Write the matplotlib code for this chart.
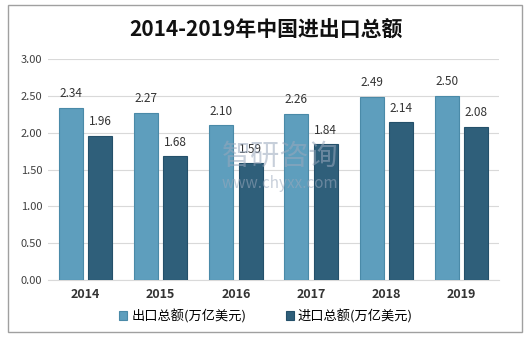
"""2014-2019 China import/export totals, grouped bar chart."""

import matplotlib

matplotlib.use("Agg")
import matplotlib.pyplot as plt
from matplotlib.patches import Rectangle
import numpy as np

plt.rcParams["font.family"] = ["Noto Sans CJK SC", "DejaVu Sans"]

YEARS = ["2014", "2015", "2016", "2017", "2018", "2019"]
EXPORTS = [2.34, 2.27, 2.10, 2.26, 2.49, 2.50]
IMPORTS = [1.96, 1.68, 1.59, 1.84, 2.14, 2.08]
SERIES_NAMES = ["出口总额(万亿美元)", "进口总额(万亿美元)"]
TITLE = "2014-2019年中国进出口总额"
Y_TICKS = [0.0, 0.5, 1.0, 1.5, 2.0, 2.5, 3.0]

EXPORT_COLOR = "#5e9ebd"
IMPORT_COLOR = "#2f5f7a"

fig = plt.figure(figsize=(5.32, 3.46), dpi=100)
fig.patches.append(Rectangle((8 / 532, 1 - 332 / 346), 514 / 532, 327 / 346,
                             transform=fig.transFigure, fill=False,
                             edgecolor="#a0a0a0", linewidth=1.0))

ax = fig.add_axes([48 / 532, 1 - 280 / 346, 451 / 532, 221 / 346])

x = np.arange(len(YEARS))
w = 0.32
gap = 0.035
b1 = ax.bar(x - w / 2 - gap, EXPORTS, width=w, color=EXPORT_COLOR,
            edgecolor="#4a8aa8", linewidth=0.8, label=SERIES_NAMES[0], zorder=3)
b2 = ax.bar(x + w / 2 + gap, IMPORTS, width=w, color=IMPORT_COLOR,
            edgecolor="#24506a", linewidth=0.8, label=SERIES_NAMES[1], zorder=3)

# watermark (sits behind the value labels)
fig.text(280 / 532, 1 - 157 / 346, "智研咨询", ha="center", va="center", fontsize=21,
         color="#9aa8bc", alpha=0.55, zorder=1)
fig.text(280 / 532, 1 - 183 / 346, "www.chyxx.com", ha="center", va="center",
         fontsize=11, color="#9aa8bc", alpha=0.55, zorder=1)

for bars, vals in ((b1, EXPORTS), (b2, IMPORTS)):
    for bar, v in zip(bars, vals):
        ax.text(bar.get_x() + bar.get_width() / 2, v + 0.1, f"{v:.2f}",
                ha="center", va="bottom", fontsize=8.5, color="#333333", zorder=4)

ax.set_xlim(-0.5, len(YEARS) - 0.5)
ax.set_ylim(0, 3.0)
ax.set_yticks(Y_TICKS)
ax.set_yticklabels([f"{t:.2f}" for t in Y_TICKS], fontsize=8, color="#404040")
ax.set_xticks(x)
ax.set_xticklabels(YEARS, fontsize=9, fontweight="bold", color="#333333")
ax.tick_params(axis="both", length=0, pad=6)
ax.tick_params(axis="y", pad=4)
ax.grid(True, axis="y", color="#d9d9d9", linewidth=0.8, zorder=0)
for s in ("top", "right", "left"):
    ax.spines[s].set_visible(False)
ax.spines["bottom"].set_color("#d9d9d9")

fig.text(0.5, 1 - 30 / 346, TITLE, ha="center", va="center", fontsize=15,
         fontweight="bold", color="#111111")

fig.legend(handles=[b1, b2], loc="center", bbox_to_anchor=(0.5, 1 - 316 / 346),
           ncol=2, frameon=False, fontsize=9.5, handlelength=0.6, handleheight=0.6,
           handletextpad=0.3, columnspacing=3.0)

fig.savefig("out.png", dpi=100)
